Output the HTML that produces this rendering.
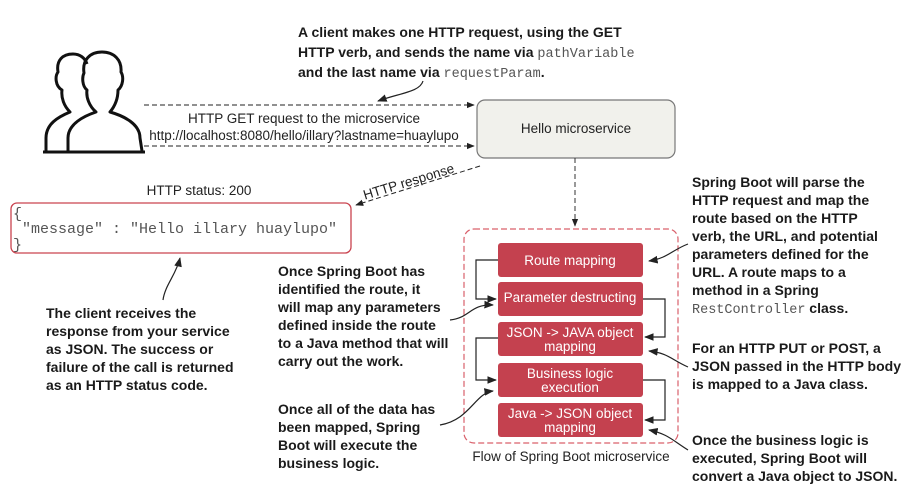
<!DOCTYPE html>
<html><head><meta charset="utf-8"><style>
body{margin:0;background:#fff}
svg{display:block}
.b{font-family:"Liberation Sans Narrow","Liberation Sans",sans-serif;font-weight:bold;font-size:14px;fill:#1a1a1a}
.s{font-family:"Liberation Sans",sans-serif;font-size:13.5px;fill:#222}
.m{font-family:"Liberation Mono",monospace;font-size:13.5px;font-weight:normal;fill:#555}
.w{font-family:"Liberation Sans",sans-serif;font-size:13.5px;fill:#fff}
</style></head><body>
<svg width="923" height="501" viewBox="0 0 923 501" xmlns="http://www.w3.org/2000/svg">
<defs>
<marker id="a" viewBox="0 0 10 10" refX="9" refY="5" markerWidth="8" markerHeight="8" orient="auto-start-reverse"><path d="M0,1 L10,5 L0,9 z" fill="#222"/></marker>
</defs>
<!-- users icon -->
<g fill="none" stroke="#111" stroke-width="3" stroke-linejoin="round">
<path d="M46,151 L46,138 C46,124 58,117 70,112 C64,106 61,98 62,90 C55,86 55,76 58,72 C56,60 63,54 73,54 C80,54 85,58 87,64"/>
<path d="M68,151 L68,138 C68,124 84,116 96,112 C89,106 86,97 87,90 C82,86 82,77 84,73 C82,60 90,52 102,52 C114,52 122,60 121,72 C124,77 123,86 118,90 C118,98 115,106 110,112 C124,116 140,124 140,138 L142,151"/>
<path d="M43,152 L145,152"/>
</g>
<!-- top annotation -->
<text class="b" x="298" y="37">A client makes one HTTP request, using the GET</text>
<text class="b" x="298" y="57">HTTP verb, and sends the name via <tspan class="m">pathVariable</tspan></text>
<text class="b" x="298" y="77">and the last name via <tspan class="m">requestParam</tspan>.</text>
<path d="M423,81 C420,92 400,93 378,101" fill="none" stroke="#222" stroke-width="1.2" marker-end="url(#a)"/>
<!-- request arrows -->
<line x1="144" y1="105" x2="474" y2="105" stroke="#222" stroke-dasharray="5,3" marker-end="url(#a)"/>
<line x1="144" y1="146" x2="474" y2="146" stroke="#222" stroke-dasharray="5,3" marker-end="url(#a)"/>
<text class="s" x="304" y="123" text-anchor="middle">HTTP GET request to the microservice</text>
<text class="s" x="304" y="140" text-anchor="middle">http://localhost:8080/hello/illary?lastname=huaylupo</text>
<!-- hello box -->
<rect x="477" y="100" width="198" height="58" rx="8" fill="#f1f1ec" stroke="#777" stroke-width="1.2"/>
<text class="s" x="576" y="133" text-anchor="middle">Hello microservice</text>
<line x1="575" y1="158" x2="575" y2="226" stroke="#333" stroke-dasharray="5,3" marker-end="url(#a)"/>
<!-- response -->
<line x1="480" y1="166" x2="356" y2="205" stroke="#222" stroke-dasharray="5,3" marker-end="url(#a)"/>
<text class="s" x="410" y="186" transform="rotate(-17 410 186)" text-anchor="middle">HTTP response</text>
<text class="s" x="199" y="195" text-anchor="middle">HTTP status: 200</text>
<rect x="11" y="203" width="340" height="50" rx="6" fill="#fff" stroke="#c9434f" stroke-width="1.3"/>
<text class="m" x="13" y="218" style="font-size:15px">{</text>
<text class="m" x="22" y="233" style="font-size:15px">"message" : "Hello illary huaylupo"</text>
<text class="m" x="13" y="249" style="font-size:15px">}</text>
<path d="M163,300 C165,285 176,275 180,258" fill="none" stroke="#222" stroke-width="1.2" marker-end="url(#a)"/>
<!-- left annotation -->
<text class="b" x="46" y="318">The client receives the</text>
<text class="b" x="46" y="336">response from your service</text>
<text class="b" x="46" y="354">as JSON. The success or</text>
<text class="b" x="46" y="372">failure of the call is returned</text>
<text class="b" x="46" y="390">as an HTTP status code.</text>
<!-- container -->
<rect x="464" y="229" width="214" height="214" rx="10" fill="none" stroke="#d9606b" stroke-dasharray="6,3" stroke-width="1.2"/>
<text class="s" x="571" y="461" text-anchor="middle">Flow of Spring Boot microservice</text>
<g fill="#c4414f">
<rect x="498" y="243" width="145" height="34" rx="3"/>
<rect x="498" y="282" width="145" height="34" rx="3"/>
<rect x="498" y="322" width="145" height="34" rx="3"/>
<rect x="498" y="363" width="145" height="34" rx="3"/>
<rect x="498" y="403" width="145" height="34" rx="3"/>
</g>
<text class="w" x="570" y="265" text-anchor="middle">Route mapping</text>
<text class="w" x="570" y="302" text-anchor="middle">Parameter destructing</text>
<text class="w" x="570" y="337" text-anchor="middle">JSON -&gt; JAVA object</text>
<text class="w" x="570" y="351" text-anchor="middle">mapping</text>
<text class="w" x="570" y="378" text-anchor="middle">Business logic</text>
<text class="w" x="570" y="392" text-anchor="middle">execution</text>
<text class="w" x="570" y="418" text-anchor="middle">Java -&gt; JSON object</text>
<text class="w" x="570" y="432" text-anchor="middle">mapping</text>
<g fill="none" stroke="#222" stroke-width="1.2">
<path d="M498,260 L476,260 L476,299 L496,299" marker-end="url(#a)"/>
<path d="M643,299 L665,299 L665,337 L645,337" marker-end="url(#a)"/>
<path d="M498,338 L476,338 L476,380 L496,380" marker-end="url(#a)"/>
<path d="M643,380 L665,380 L665,420 L645,420" marker-end="url(#a)"/>
<path d="M688,244 C672,250 668,258 649,261" marker-end="url(#a)"/>
<path d="M450,320 C470,318 470,304 493,305" marker-end="url(#a)"/>
<path d="M688,367 C672,360 668,353 649,351" marker-end="url(#a)"/>
<path d="M440,425 C470,420 475,393 493,391" marker-end="url(#a)"/>
<path d="M688,450 C672,440 668,434 649,430" marker-end="url(#a)"/>
</g>
<!-- mid annotations -->
<text class="b" x="278" y="276">Once Spring Boot has</text>
<text class="b" x="278" y="294">identified the route, it</text>
<text class="b" x="278" y="312">will map any parameters</text>
<text class="b" x="278" y="330">defined inside the route</text>
<text class="b" x="278" y="348">to a Java method that will</text>
<text class="b" x="278" y="366">carry out the work.</text>
<text class="b" x="278" y="414">Once all of the data has</text>
<text class="b" x="278" y="432">been mapped, Spring</text>
<text class="b" x="278" y="450">Boot will execute the</text>
<text class="b" x="278" y="468">business logic.</text>
<!-- right annotations -->
<text class="b" x="692" y="187">Spring Boot will parse the</text>
<text class="b" x="692" y="205">HTTP request and map the</text>
<text class="b" x="692" y="223">route based on the HTTP</text>
<text class="b" x="692" y="241">verb, the URL, and potential</text>
<text class="b" x="692" y="259">parameters defined for the</text>
<text class="b" x="692" y="277">URL. A route maps to a</text>
<text class="b" x="692" y="295">method in a Spring</text>
<text class="b" x="692" y="313"><tspan class="m">RestController</tspan> class.</text>
<text class="b" x="692" y="353">For an HTTP PUT or POST, a</text>
<text class="b" x="692" y="371">JSON passed in the HTTP body</text>
<text class="b" x="692" y="389">is mapped to a Java class.</text>
<text class="b" x="692" y="445">Once the business logic is</text>
<text class="b" x="692" y="463">executed, Spring Boot will</text>
<text class="b" x="692" y="481">convert a Java object to JSON.</text>
</svg>
</body></html>
